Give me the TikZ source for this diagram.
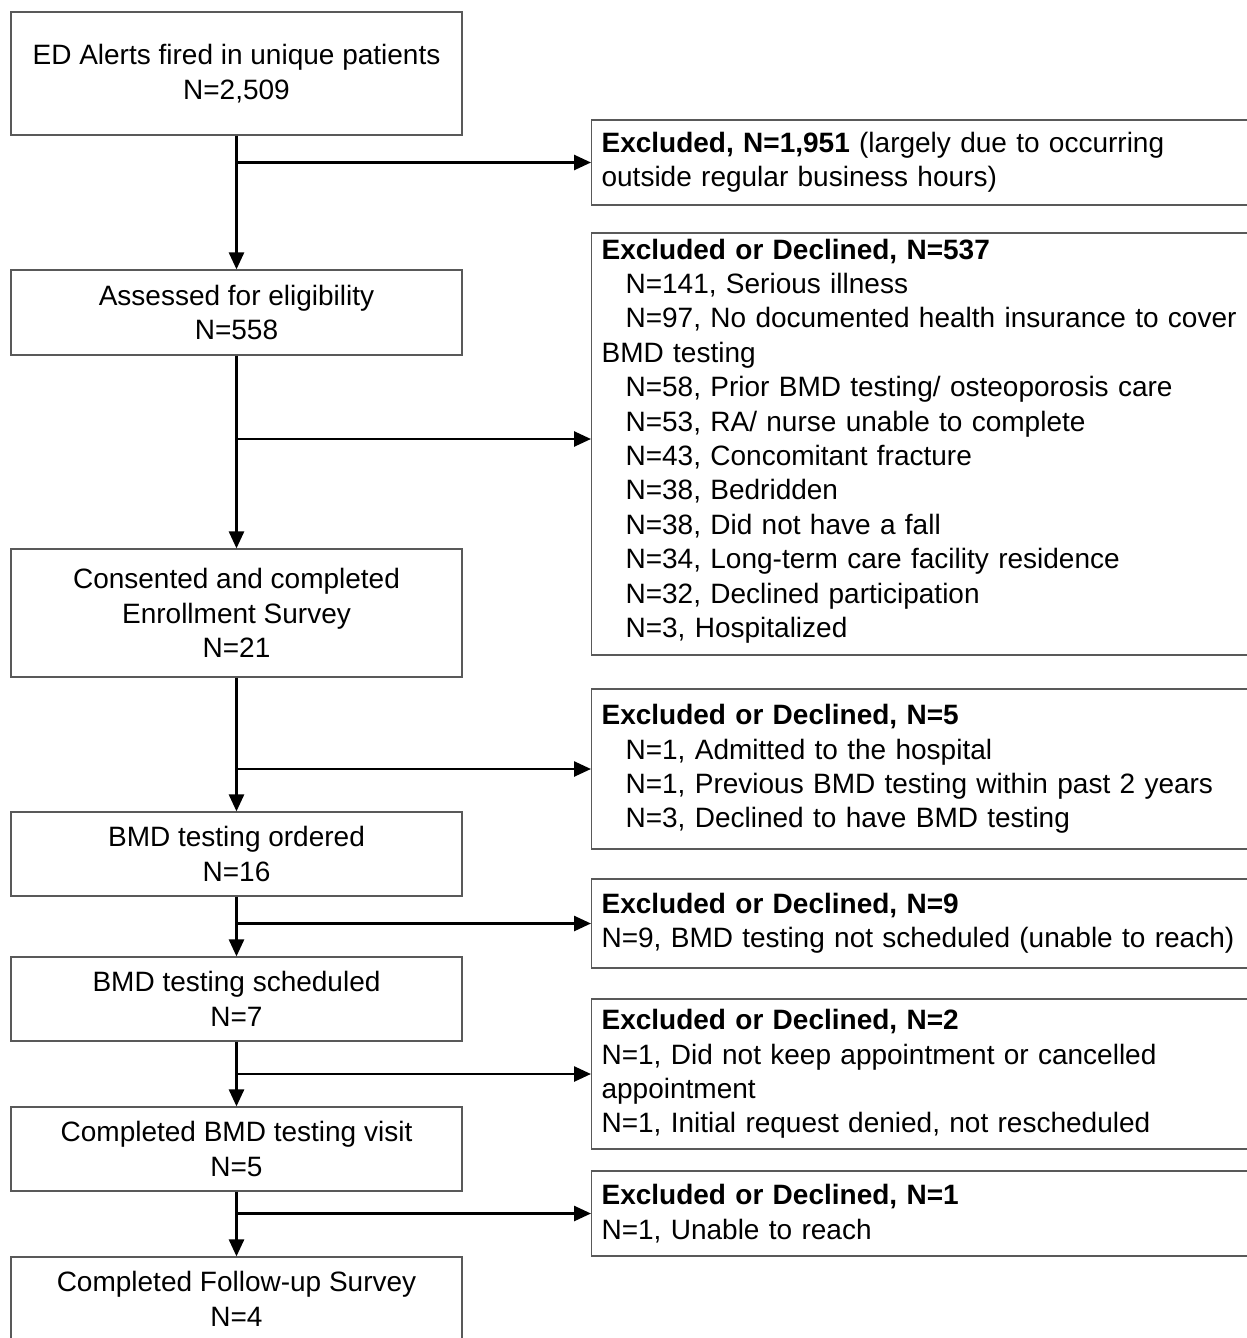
\documentclass[tikz,border=0pt]{standalone}
\usepackage{fontspec}
\setmainfont{Liberation Sans}
\usetikzlibrary{arrows.meta}

\begin{document}
\begin{tikzpicture}[x=1pt,y=-1pt,
    stage/.style={draw=black!65,line width=1.2pt,minimum width=451pt,align=center,
      font=\fontsize{28}{34.4}\selectfont,inner sep=0pt},
    exclbox/.style={draw=black!65,line width=1.2pt,anchor=west,text width=700pt,align=left,
      font=\fontsize{28}{34.4}\selectfont,inner xsep=10pt,inner ysep=0pt},
    arr/.style={line width=2.6pt,-{Triangle[length=17pt,width=15pt]}}]
    \useasboundingbox (0,0) rectangle (1247,1338);
        \node[stage,minimum height=123pt] (alerts) at (236.5,73.5) {ED Alerts fired in unique patients\\N=2,509};
        \node[stage,minimum height=85pt] (assessed) at (236.5,312.5) {Assessed for eligibility\\N=558};
        \node[stage,minimum height=128pt] (consented) at (236.5,613) {Consented and completed\\Enrollment Survey\\N=21};
        \node[stage,minimum height=84pt] (ordered) at (236.5,854) {BMD testing ordered\\N=16};
        \node[stage,minimum height=84pt] (scheduled) at (236.5,999) {BMD testing scheduled\\N=7};
        \node[stage,minimum height=84pt] (visit) at (236.5,1149) {Completed BMD testing visit\\N=5};
        \node[stage,minimum height=84pt] (followup) at (236.5,1299) {Completed Follow-up Survey\\N=4};

        \node[exclbox,minimum height=85pt] (excl1) at (591,162.5) {\textbf{Excluded, N=1,951} (largely due to occurring\\outside regular business hours)};
        \node[exclbox,minimum height=422pt] (excl2) at (591,444) {\textbf{Excluded or Declined, N=537}\\
            \hspace*{24pt}N=141, Serious illness\\
            \hspace*{24pt}N=97, No documented health insurance to cover\\
            BMD testing\\
            \hspace*{24pt}N=58, Prior BMD testing/ osteoporosis care\\
            \hspace*{24pt}N=53, RA/ nurse unable to complete\\
            \hspace*{24pt}N=43, Concomitant fracture\\
            \hspace*{24pt}N=38, Bedridden\\
            \hspace*{24pt}N=38, Did not have a fall\\
            \hspace*{24pt}N=34, Long-term care facility residence\\
            \hspace*{24pt}N=32, Declined participation\\
            \hspace*{24pt}N=3, Hospitalized\vspace*{6pt}};
        \node[exclbox,minimum height=160pt] (excl3) at (591,769) {\textbf{Excluded or Declined, N=5}\\
            \hspace*{24pt}N=1, Admitted to the hospital\\
            \hspace*{24pt}N=1, Previous BMD testing within past 2 years\\
            \hspace*{24pt}N=3, Declined to have BMD testing};
        \node[exclbox,minimum height=89pt] (excl4) at (591,923.5) {\textbf{Excluded or Declined, N=9}\\N=9, BMD testing not scheduled (unable to reach)};
        \node[exclbox,minimum height=150pt] (excl5) at (591,1074) {\textbf{Excluded or Declined, N=2}\\N=1, Did not keep appointment or cancelled\\appointment\\N=1, Initial request denied, not rescheduled};
        \node[exclbox,minimum height=85pt] (excl6) at (591,1213.5) {\textbf{Excluded or Declined, N=1}\\N=1, Unable to reach};

        \draw[arr] (alerts) -- (assessed);
        \draw[arr] (assessed) -- (consented);
        \draw[arr] (consented) -- (ordered);
        \draw[arr] (ordered) -- (scheduled);
        \draw[arr] (scheduled) -- (visit);
        \draw[arr] (visit) -- (followup);
        \draw[arr] (alerts |- excl1.west) -- (excl1.west);
        \draw[arr] (assessed |- 0,439) -- (excl2.west |- 0,439);
        \draw[arr] (consented |- excl3.west) -- (excl3.west);
        \draw[arr] (ordered |- excl4.west) -- (excl4.west);
        \draw[arr] (scheduled |- excl5.west) -- (excl5.west);
        \draw[arr] (visit |- excl6.west) -- (excl6.west);
    \end{tikzpicture}
\end{document}
